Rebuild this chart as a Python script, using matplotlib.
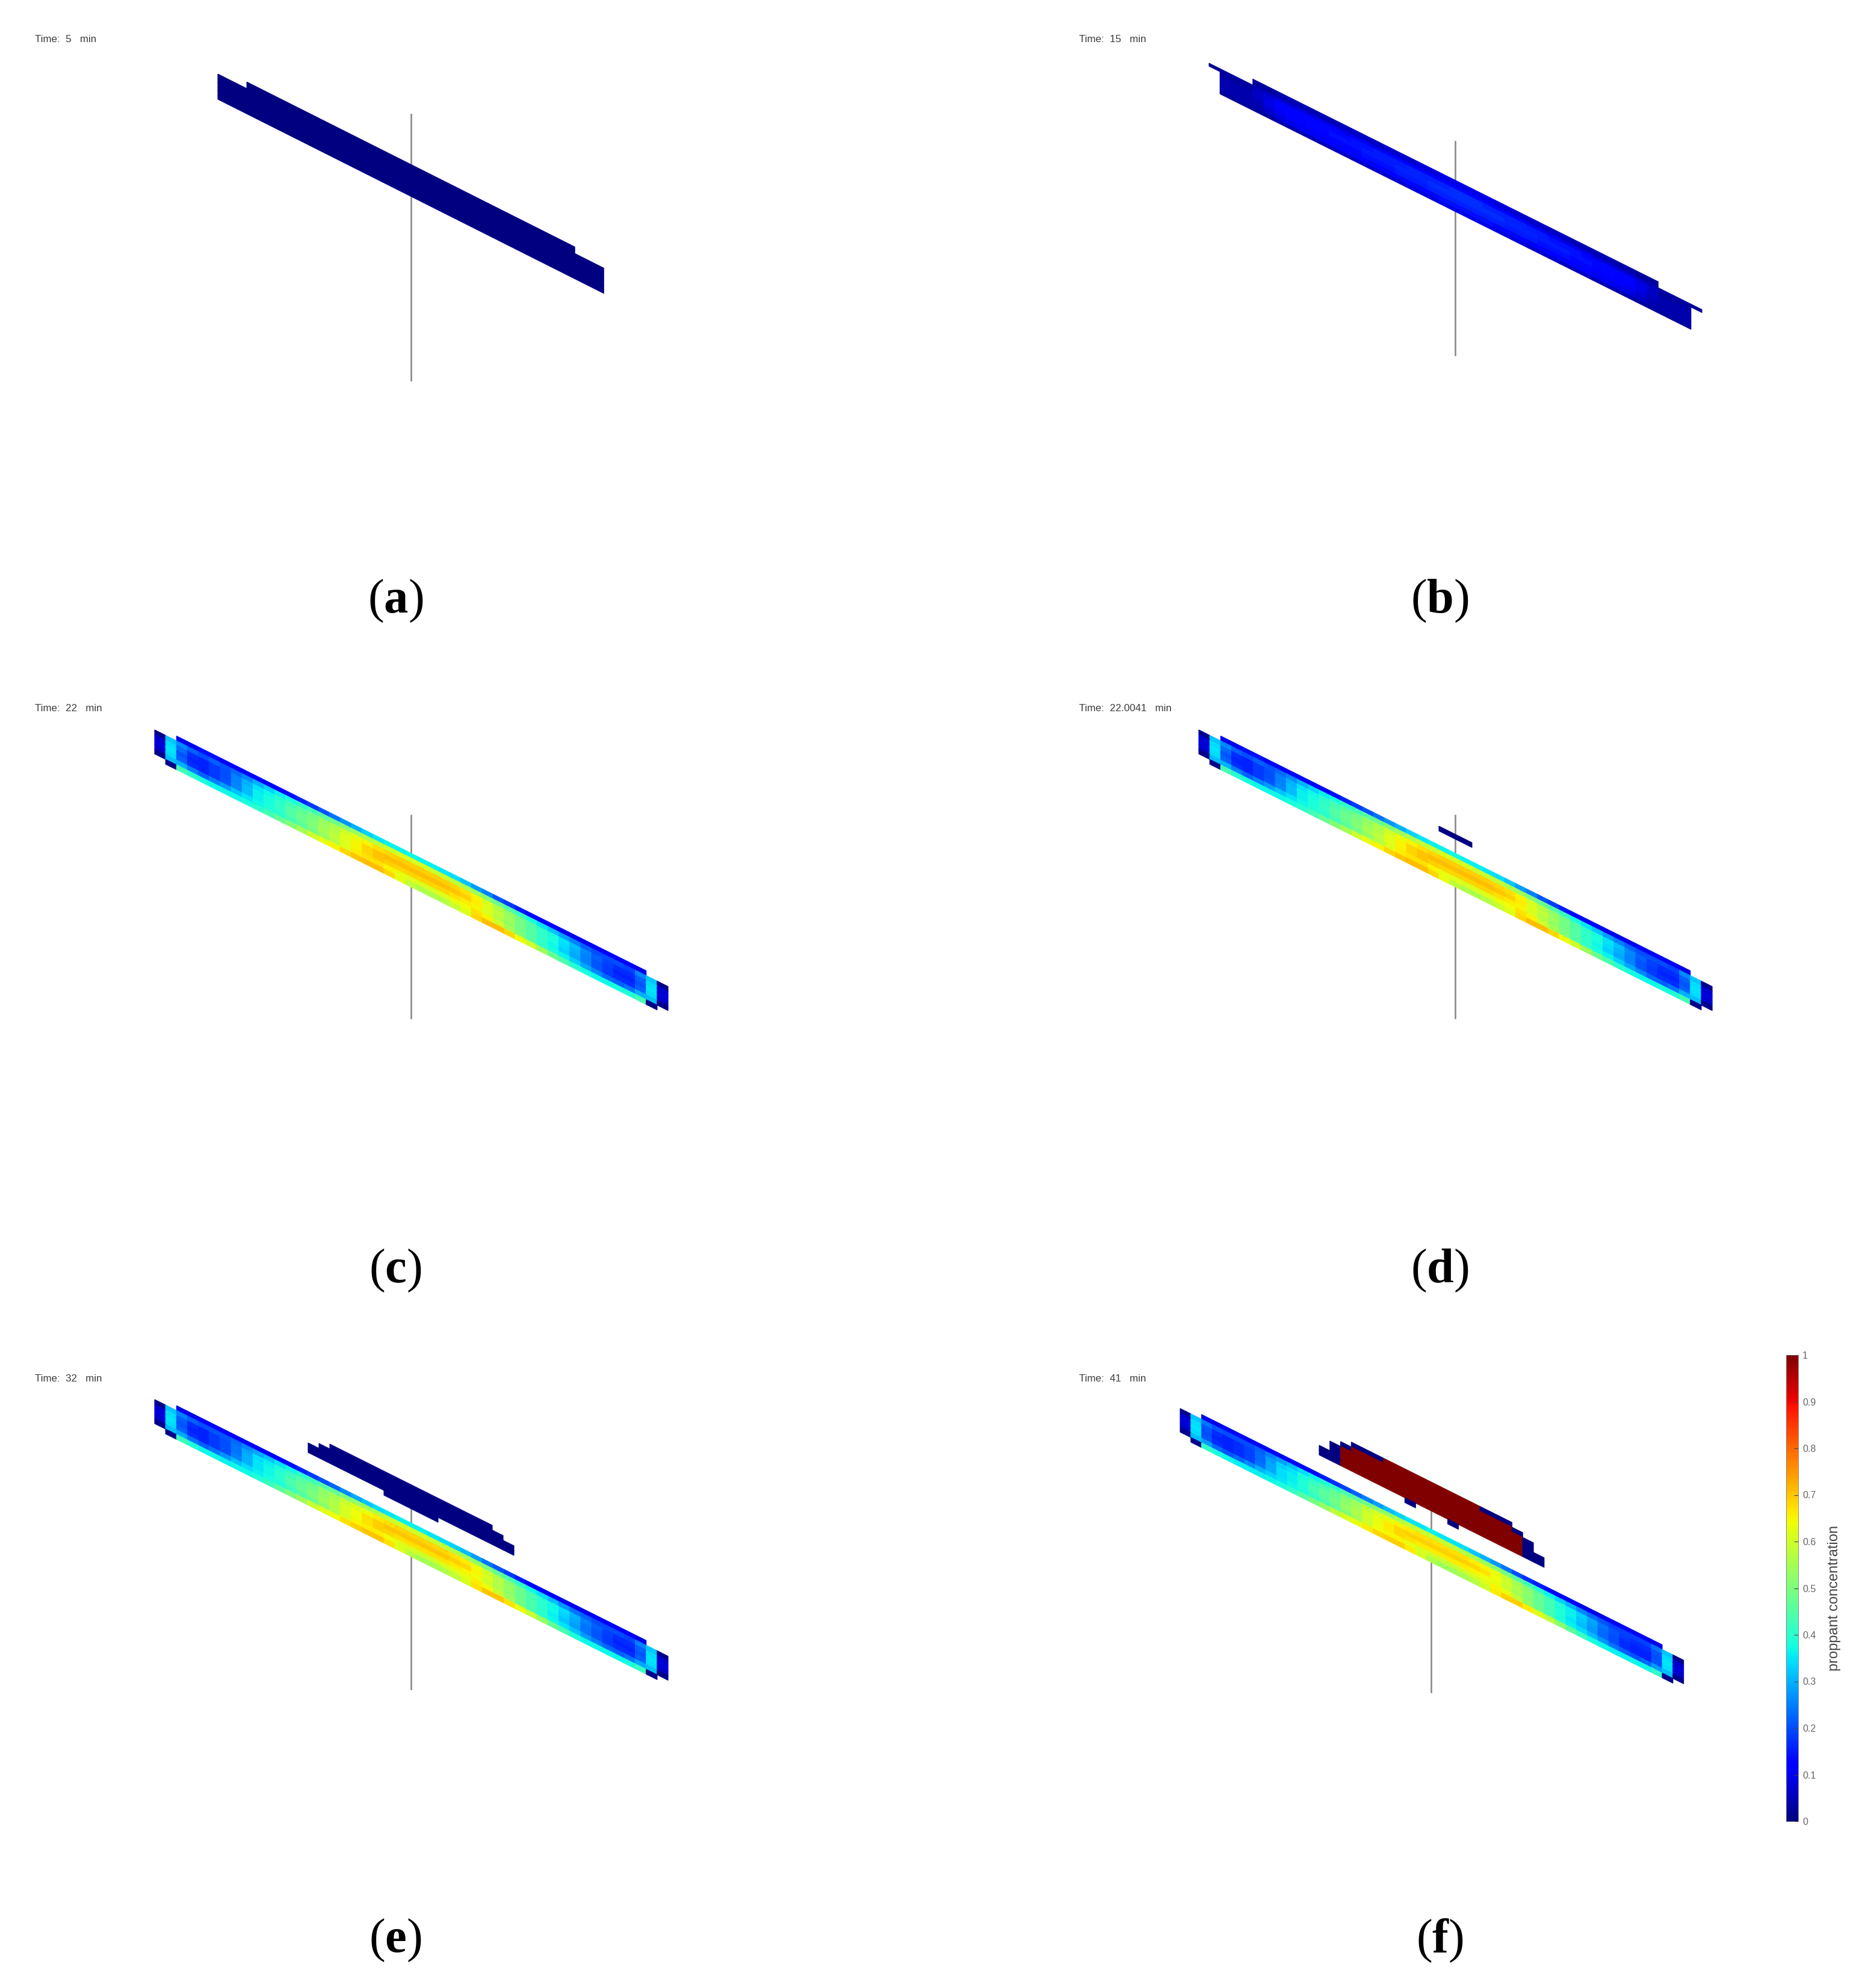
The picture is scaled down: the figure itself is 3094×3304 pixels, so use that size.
import numpy as np
import matplotlib
matplotlib.use("Agg")
import matplotlib.pyplot as plt
from matplotlib.cm import ScalarMappable
from matplotlib.colors import Normalize

plt.rcParams['font.family'] = ['Liberation Sans', 'DejaVu Sans']
plt.rcParams['mathtext.fontset'] = 'custom'
plt.rcParams['mathtext.rm'] = 'Liberation Serif'
plt.rcParams['mathtext.bf'] = 'Liberation Serif:bold'

n = np.nan

# texts
letters = ["a", "b", "c", "d", "e", "f"]
times = ["5", "15", "22", "22.0041", "32", "41"]
cbar_ticks = [0, 0.1, 0.2, 0.3, 0.4, 0.5, 0.6, 0.7, 0.8, 0.9, 1]
cbar_labels = ["0", "0.1", "0.2", "0.3", "0.4", "0.5", "0.6", "0.7", "0.8", "0.9", "1"]

# well line in each panel: x, top, bottom (panel pixels)
well_x = [683, 683, 683, 683, 683, 643]
well_top = [190, 235, 242, 242, 242, 249]
well_bottom = [632, 590, 579, 579, 581, 586]

# panel a: uniform concentration, first and last filled column per row
a_first = [3, 0, 0, 0, 0, 0, 0]
a_last = [36, 39, 39, 39, 39, 39, 39]

# panel b: concentration of the main fracture columns, per row
b_main = [
    [.03,.03,.04,.05,.05,.05,.05,.05,.06,.06,.06,.06,.07,.07,.07,.08,.08,.09,.09,.09,.09,.09,.08,.08,.07,.07,.06,.06,.06,.05,.05,.05,.05,.04,.04,.03,.03],
    [.05,.06,.07,.07,.08,.08,.09,.09,.09,.10,.10,.10,.11,.11,.11,.11,.11,.12,.12,.12,.12,.11,.11,.11,.11,.10,.10,.10,.09,.09,.09,.08,.08,.07,.07,.06,.05],
    [.06,.08,.11,.12,.12,.12,.13,.13,.13,.14,.14,.15,.15,.15,.16,.16,.16,.16,.17,.17,.17,.16,.16,.16,.16,.15,.15,.14,.14,.14,.13,.13,.13,.12,.11,.09,.06],
    [.06,.09,.11,.12,.12,.13,.13,.14,.14,.14,.15,.15,.15,.16,.16,.16,.17,.17,.17,.17,.17,.17,.17,.16,.16,.16,.15,.15,.15,.14,.14,.13,.13,.12,.11,.09,.06],
    [.05,.08,.10,.11,.12,.12,.12,.13,.13,.13,.14,.14,.14,.15,.15,.15,.16,.16,.16,.16,.16,.16,.16,.15,.15,.15,.14,.14,.14,.13,.13,.12,.12,.11,.10,.08,.05],
    [.04,.06,.08,.09,.10,.10,.11,.11,.11,.12,.12,.12,.12,.13,.13,.13,.13,.14,.14,.14,.14,.14,.13,.13,.13,.12,.12,.12,.12,.11,.11,.10,.10,.09,.08,.06,.04],
    [.03,.03,.04,.04,.05,.05,.05,.06,.06,.06,.07,.07,.07,.07,.08,.08,.08,.09,.09,.09,.09,.09,.08,.08,.08,.07,.07,.07,.06,.06,.06,.05,.05,.04,.04,.03,.03],
]
b_block = [.03, .03, .04, .04, .04, .03]
b_tip = .02

# panels c and d: concentration of the main fracture columns, per row
c_main = [
    [.10,.10,.14,.14,.12,.12,.12,.11,.11,.12,.14,.16,.18,.21,.24,.27,.30,.33,.35,.36,.36,.37,.36,.36,.35,.34,.32,.28,.25,.21,.18,.15,.13,.12,.11,.10,.10,.10,.11,.12,.12,.11,.09],
    [.26,.22,.20,.22,.21,.23,.26,.30,.33,.36,.38,.41,.43,.46,.48,.51,.54,.56,.58,.60,.61,.61,.61,.60,.59,.58,.56,.54,.51,.48,.45,.42,.38,.35,.32,.28,.25,.22,.20,.20,.20,.19,.26],
    [.23,.17,.16,.18,.20,.25,.30,.35,.37,.40,.43,.46,.49,.53,.56,.60,.63,.65,.67,.68,.69,.69,.69,.69,.69,.68,.67,.65,.61,.57,.53,.49,.45,.41,.38,.35,.31,.26,.22,.19,.17,.17,.22],
    [.21,.16,.16,.18,.20,.25,.31,.36,.38,.41,.45,.48,.50,.54,.57,.62,.65,.68,.70,.71,.71,.71,.71,.71,.71,.70,.69,.66,.62,.58,.54,.49,.45,.41,.38,.34,.30,.25,.21,.18,.16,.16,.21],
    [.22,.17,.16,.18,.21,.26,.31,.36,.38,.41,.45,.48,.51,.55,.58,.62,.65,.68,.70,.69,.68,.68,.68,.68,.68,.67,.66,.65,.61,.57,.53,.49,.45,.41,.37,.33,.29,.25,.21,.18,.17,.17,.22],
    [.30,.25,.22,.25,.28,.32,.35,.37,.39,.40,.43,.46,.49,.53,.57,.62,.66,.67,.67,.65,.63,.62,.61,.61,.62,.63,.64,.67,.65,.60,.55,.50,.45,.41,.38,.36,.33,.29,.26,.23,.22,.24,.30],
    [.43,.40,.38,.37,.37,.37,.38,.40,.43,.47,.51,.55,.60,.63,.65,.68,.70,.71,.71,.68,.63,.58,.56,.56,.57,.59,.62,.68,.71,.71,.68,.64,.60,.54,.48,.44,.40,.38,.37,.37,.38,.39,.43],
]

# panel e
e_main = [
    [.10,.10,.13,.13,.12,.12,.12,.11,.11,.12,.14,.16,.18,.20,.23,.26,.29,.32,.34,.35,.36,.36,.36,.35,.34,.33,.31,.28,.24,.21,.18,.15,.13,.12,.11,.10,.10,.10,.11,.12,.12,.11,.09],
    [.25,.22,.20,.21,.21,.23,.26,.29,.32,.35,.37,.40,.42,.45,.47,.50,.53,.55,.57,.59,.60,.60,.60,.59,.58,.57,.55,.53,.50,.47,.44,.41,.37,.34,.31,.27,.24,.22,.20,.20,.20,.19,.25],
    [.22,.17,.16,.18,.20,.24,.29,.34,.36,.39,.42,.45,.48,.52,.55,.59,.62,.64,.66,.67,.68,.68,.68,.68,.68,.67,.66,.64,.60,.56,.52,.48,.44,.40,.37,.34,.30,.25,.22,.19,.17,.17,.22],
    [.21,.16,.16,.18,.20,.24,.30,.35,.37,.40,.44,.47,.49,.53,.56,.61,.64,.67,.69,.70,.70,.70,.70,.70,.70,.69,.68,.65,.61,.57,.53,.48,.44,.40,.37,.33,.29,.24,.21,.18,.16,.16,.21],
    [.22,.17,.16,.18,.20,.25,.30,.35,.37,.40,.44,.47,.50,.54,.57,.61,.64,.67,.69,.68,.67,.67,.67,.67,.67,.66,.65,.64,.60,.56,.52,.48,.44,.40,.36,.32,.28,.24,.21,.18,.17,.17,.22],
    [.29,.24,.22,.24,.27,.31,.34,.36,.38,.39,.42,.45,.48,.52,.56,.61,.65,.66,.66,.64,.62,.61,.60,.60,.61,.62,.63,.66,.64,.59,.54,.49,.44,.40,.37,.35,.32,.28,.25,.23,.22,.24,.29],
    [.42,.39,.37,.37,.36,.37,.37,.39,.42,.46,.50,.54,.59,.62,.64,.67,.69,.70,.70,.67,.62,.57,.55,.55,.56,.58,.61,.67,.70,.70,.67,.63,.59,.53,.47,.43,.39,.37,.37,.37,.37,.38,.42],
]

# panel f
f_main = [
    [.10,.10,.13,.13,.12,.12,.12,.11,.11,.12,.13,.15,.17,.19,.22,.25,.28,.31,.33,.35,.35,.36,.35,.35,.34,.32,.30,.27,.24,.20,.17,.15,.13,.12,.11,.10,.10,.10,.11,.12,.12,.11,.09],
    [.24,.21,.20,.20,.20,.22,.25,.28,.31,.34,.36,.39,.41,.44,.46,.49,.52,.54,.56,.58,.59,.59,.59,.58,.57,.56,.54,.52,.49,.46,.43,.40,.36,.33,.30,.26,.23,.21,.19,.19,.19,.19,.24],
    [.21,.17,.16,.17,.19,.23,.28,.33,.35,.38,.41,.44,.47,.51,.54,.58,.61,.63,.65,.66,.67,.67,.67,.67,.67,.66,.65,.63,.59,.55,.51,.47,.43,.39,.36,.33,.29,.24,.21,.18,.17,.17,.21],
    [.20,.16,.16,.17,.19,.23,.29,.34,.36,.39,.43,.46,.48,.52,.55,.60,.63,.66,.68,.69,.69,.69,.69,.69,.69,.68,.67,.64,.60,.56,.52,.47,.43,.39,.36,.32,.28,.23,.20,.17,.16,.16,.20],
    [.21,.17,.16,.17,.19,.24,.29,.34,.36,.39,.43,.46,.49,.53,.56,.60,.63,.66,.68,.67,.66,.66,.66,.66,.66,.65,.64,.63,.59,.55,.51,.47,.43,.39,.35,.31,.27,.23,.20,.17,.16,.16,.21],
    [.28,.23,.21,.23,.26,.30,.33,.35,.37,.38,.41,.44,.47,.51,.55,.60,.64,.65,.65,.63,.61,.60,.59,.59,.60,.61,.62,.65,.63,.58,.53,.48,.43,.39,.36,.34,.31,.27,.24,.22,.21,.23,.28],
    [.41,.38,.37,.36,.36,.36,.37,.38,.41,.45,.49,.53,.58,.61,.63,.66,.68,.69,.69,.66,.61,.56,.54,.54,.55,.57,.60,.66,.69,.69,.66,.62,.58,.52,.46,.42,.38,.37,.36,.36,.37,.37,.41],
]

# end columns next to the main fracture, rows 1 to 5 / rows 1 to 6
side_outer = [.01, .07, .08, .07, .01]
side_inner = [.32, .34, .35, .34, .31, .01]

# panel d: new small fracture, one row of three columns
d_small = [[0, 0, 0]]

# panel e: small fracture, first and last filled row per column
e_small_first = [2, 1, 0, 0, 0, 0, 0, 0, 0, 0, 0, 0, 0, 0, 0, 0, 0, 1, 2]
e_small_last = [3, 3, 3, 3, 3, 3, 3, 4, 4, 4, 4, 4, 3, 3, 3, 3, 3, 3, 3]

# panel f: small fracture filled with proppant
f_small = [
    [n, n, n, 0, 0, 0, 1, 1, 1, 1, 1, 1, 1, 1, 1, 0, 0, 0, n, n, n],
    [n, n, 0, 1, 1, 1, 1, 1, 1, 1, 1, 1, 1, 1, 1, 1, 1, 1, 0, n, n],
    [n, 0, 1, 1, 1, 1, 1, 1, 1, 1, 1, 1, 1, 1, 1, 1, 1, 1, 1, 0, n],
    [n, 0, 1, 1, 1, 1, 1, 1, 1, 1, 1, 1, 1, 1, 1, 1, 1, 1, 1, 0, n],
    [0, 0, 1, 1, 1, 1, 1, 1, 1, 1, 1, 1, 1, 1, 1, 1, 1, 1, 1, 0, 0],
    [0, 0, 1, 1, 1, 1, 1, 1, 1, 1, 1, 1, 1, 1, 1, 1, 1, 1, 1, 0, 0],
    [n, n, n, n, n, n, n, n, 0, n, n, n, 0, n, n, n, n, n, n, n, n],
]


def from_ranges(first, last, ncols):
    # rows given as first/last column
    grid = np.full((len(first), ncols), n)
    for r in range(len(first)):
        grid[r, first[r]:last[r] + 1] = 0
    return grid


def band_grid(rows):
    grid = np.full((7, 47), n)
    grid[:, 2:45] = rows
    grid[1:6, 0] = side_outer
    grid[1:6, 46] = side_outer[::-1]
    grid[1:7, 1] = side_inner
    grid[1:7, 45] = side_inner
    return grid


def b_grid():
    grid = np.full((7, 45), n)
    grid[:, 4:41] = b_main
    grid[1:7, 1:4] = np.array(b_block)[:, None]
    grid[1:7, 41:44] = np.array(b_block)[:, None]
    grid[1, 0] = b_tip
    grid[1, 44] = b_tip
    return grid


def draw_cells(ax, grid, x0, y0, dx, row_edges, slope=0.5):
    grid = np.array(grid, dtype=float)
    col_edges = np.arange(grid.shape[1] + 1)
    cc, rr = np.meshgrid(col_edges, row_edges)
    X = x0 + cc * dx
    Y = y0 + cc * dx * slope + rr
    mesh = ax.pcolormesh(X, Y, np.ma.masked_invalid(grid), cmap="jet", vmin=0, vmax=1,
                         shading="flat", edgecolors="face", linewidth=0.8,
                         antialiased=True, zorder=2)
    mesh.set_snap(False)


fig = plt.figure(figsize=(30.94, 33.04), dpi=100)
W, H = 3094.0, 3304.0
col_left = [0, 1735]
row_top = [0, 1113, 2226]
axes = []
for i in range(6):
    left = col_left[i % 2]
    top = row_top[i // 2]
    pw = 1735 if i % 2 == 0 else W - 1735
    ph = 1113 if i // 2 < 2 else H - 2226
    ax = fig.add_axes([left / W, 1 - (top + ph) / H, pw / W, ph / H])
    ax.set_xlim(0, pw)
    ax.set_ylim(ph, 0)
    ax.axis("off")
    ax.patch.set_alpha(0)
    ax.plot([well_x[i], well_x[i]], [well_top[i], well_bottom[i]], color="#8a8a8a", lw=1.9, zorder=1)
    ax.text(58, 65, "Time:  " + times[i] + "   min", fontsize=12.2, color="#3c3c3c", ha="left", va="center")
    ax.text(657, 999, "($\\mathbf{" + letters[i] + "}$)", fontsize=58, color="black", ha="center",
            va="center", math_fontfamily="custom", family="Liberation Serif")
    axes.append(ax)

rows8 = np.arange(8) * 8.0

# a
draw_cells(axes[0], from_ranges(a_first, a_last, 40), 362, 112, 16.03,
           [0, 11, 18, 25, 32, 39, 46, 53], slope=0.503)
# b
draw_cells(axes[1], b_grid(), 2009 - 1735, 95, 18.2, [0, 10, 15, 23, 31, 39, 47, 52])
# c
draw_cells(axes[2], band_grid(c_main), 257, 92, 18.15, rows8)
# d
draw_cells(axes[3], band_grid(c_main), 257, 92, 18.15, rows8)
draw_cells(axes[3], d_small, 656, 260, 18.3, [0, 8])
# e
draw_cells(axes[4], band_grid(e_main), 257, 92, 18.15, rows8)
small = np.full((6, 19), n)
for c in range(19):
    small[e_small_first[c]:e_small_last[c] + 1, c] = 0
draw_cells(axes[4], small, 512, 156, 18.0, np.arange(7) * 8.0)
# f
draw_cells(axes[5], band_grid(f_main), 226, 107, 17.8, np.arange(8) * 7.85)
draw_cells(axes[5], f_small, 457, 144, 17.8, np.arange(8) * 8.0)

# colour bar
cax = fig.add_axes([2968 / W, 1 - 3027 / H, 20 / W, 775 / H])
sm = ScalarMappable(norm=Normalize(0, 1), cmap="jet")
cb = fig.colorbar(sm, cax=cax)
cb.set_ticks(cbar_ticks)
cb.set_ticklabels(cbar_labels)
cax.tick_params(axis="y", direction="in", length=5, width=0.8, color="#444444",
                labelsize=11.5, labelcolor="#666666", pad=5)
cb.outline.set_edgecolor("#777777")
cb.outline.set_linewidth(0.6)
fig.text(3048 / W, 1 - 2656 / H, "proppant concentration", rotation=90, fontsize=17,
         color="#444444", ha="center", va="center")

fig.savefig("out.png", dpi=100, facecolor="white")
